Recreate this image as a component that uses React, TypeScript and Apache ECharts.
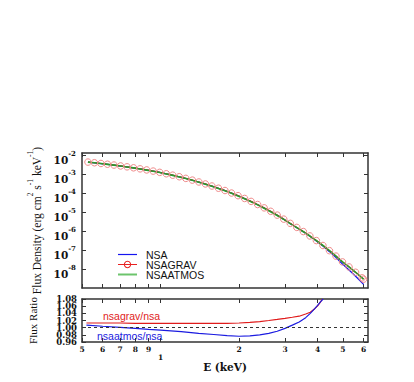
import React, { useEffect, useRef } from "react";
import * as echarts from "echarts";

const ENERGY_KEV = [
  0.527, 0.558, 0.591, 0.626, 0.663, 0.703, 0.744, 0.788, 0.835, 0.885, 0.937,
  0.993, 1.052, 1.114, 1.18, 1.25, 1.324, 1.403, 1.486, 1.574, 1.667, 1.766,
  1.871, 1.982, 2.1, 2.224, 2.356, 2.496, 2.644, 2.801, 2.967, 3.143, 3.329,
  3.527, 3.736, 3.957, 4.192, 4.441, 4.704, 4.983, 5.279, 5.592, 5.923, 6.0,
];

const FLUX_NSA = [
  4.14e-3, 3.82e-3, 3.5e-3, 3.19e-3, 2.89e-3, 2.6e-3, 2.33e-3, 2.08e-3, 1.83e-3,
  1.6e-3, 1.39e-3, 1.2e-3, 1.01e-3, 8.48e-4, 7.03e-4, 5.76e-4, 4.66e-4, 3.72e-4,
  2.93e-4, 2.28e-4, 1.75e-4, 1.32e-4, 9.74e-5, 7.06e-5, 5.04e-5, 3.52e-5,
  2.41e-5, 1.6e-5, 1.05e-5, 6.63e-6, 4.07e-6, 2.43e-6, 1.49e-6, 8.96e-7,
  5.25e-7, 2.95e-7, 1.59e-7, 8.14e-8, 3.97e-8, 1.82e-8, 8.83e-9, 4.15e-9,
  1.88e-9, 1.54e-9,
];

const FLUX_NSAGRAV = [
  4.19e-3, 3.87e-3, 3.54e-3, 3.23e-3, 2.93e-3, 2.63e-3, 2.36e-3, 2.1e-3, 1.85e-3,
  1.62e-3, 1.41e-3, 1.21e-3, 1.02e-3, 8.58e-4, 7.12e-4, 5.83e-4, 4.72e-4, 3.77e-4,
  2.97e-4, 2.31e-4, 1.77e-4, 1.34e-4, 9.88e-5, 7.18e-5, 5.13e-5, 3.59e-5,
  2.46e-5, 1.64e-5, 1.08e-5, 6.8e-6, 4.19e-6, 2.51e-6, 1.54e-6, 9.29e-7,
  5.48e-7, 3.12e-7, 1.72e-7, 9.2e-8, 4.76e-8, 2.36e-8, 1.28e-8, 6.73e-9,
  3.42e-9, 2.9e-9,
];

const FLUX_NSAATMOS = [
  4.17e-3, 3.84e-3, 3.51e-3, 3.19e-3, 2.89e-3, 2.59e-3, 2.32e-3, 2.07e-3, 1.82e-3,
  1.59e-3, 1.38e-3, 1.19e-3, 1.0e-3, 8.39e-4, 6.95e-4, 5.68e-4, 4.59e-4, 3.66e-4,
  2.88e-4, 2.23e-4, 1.71e-4, 1.29e-4, 9.51e-5, 6.9e-5, 4.92e-5, 3.44e-5,
  2.36e-5, 1.57e-5, 1.03e-5, 6.55e-6, 4.06e-6, 2.44e-6, 1.5e-6, 9.14e-7,
  5.41e-7, 3.1e-7, 1.72e-7, 9.2e-8, 4.76e-8, 2.36e-8, 1.28e-8, 6.73e-9,
  3.42e-9, 2.92e-9,
];

const RATIO_GRAV_E = [
  0.52, 0.6, 0.7, 0.8, 0.9, 1.0, 1.2, 1.4, 1.6, 1.8, 2.0, 2.2, 2.4, 2.6, 2.8,
  3.0, 3.2, 3.4, 3.6, 3.75, 3.9, 4.0, 4.1, 4.17,
];
const RATIO_GRAV = [
  1.013, 1.013, 1.013, 1.012, 1.012, 1.012, 1.012, 1.012, 1.012, 1.012, 1.013,
  1.015, 1.017, 1.02, 1.023, 1.026, 1.029, 1.032, 1.038, 1.043, 1.053, 1.061,
  1.071, 1.08,
];
const RATIO_ATMOS_E = [
  0.52, 0.6, 0.7, 0.8, 0.9, 1.0, 1.2, 1.4, 1.6, 1.8, 2.0, 2.2, 2.4, 2.6, 2.8,
  3.0, 3.2, 3.4, 3.6, 3.75, 3.9, 4.0, 4.1, 4.2,
];
const RATIO_ATMOS = [
  1.007, 1.004, 1.001, 0.998, 0.995, 0.993, 0.989, 0.984, 0.981, 0.978, 0.976,
  0.977, 0.98, 0.984, 0.99, 0.998, 1.007, 1.016, 1.028, 1.04, 1.053, 1.062,
  1.072, 1.08,
];

const X_TICKS = [0.5, 0.6, 0.7, 0.8, 0.9, 1, 2, 3, 4, 5, 6];
const Y_DECADES = [1e-8, 1e-7, 1e-6, 1e-5, 1e-4, 1e-3, 1e-2];
const RATIO_TICKS = [0.96, 0.98, 1.0, 1.02, 1.04, 1.06, 1.08];
const RATIO_LABELS_A = [0.96, 1.0, 1.04, 1.08];
const RATIO_LABELS_B = [0.98, 1.02, 1.06];
const X_MIN = 0.5;
const X_MAX = 6.24;
const Y_MIN = 1e-9;
const Y_MAX = 1.26e-2;
const RATIO_MIN = 0.96;
const RATIO_MAX = 1.08;
const RATIO_STEP = 0.02;

const SERIF = '"DejaVu Serif", serif';
const TIMES = '"Liberation Serif", serif';
const SANS = '"Liberation Sans", Arial, sans-serif';
const AX = "#333";

const C_NSA = "#1515f0";
const C_GRAV = "#e82020";
const C_GRAV_MARK = "#f08a8a";
const C_ATMOS = "#2a9a2a";
const C_ATMOS_LEG = "#6cc46c";

const ICON_LINE = "path://M0,4.4 L19,4.4 L19,5.6 L0,5.6 Z";
const ICON_LINE_THICK = "path://M0,4 L19,4 L19,6 L0,6 Z";
const ICON_LINE_RING =
  "path://M0,4.4 L19,4.4 L19,5.6 L0,5.6 Z M9.5,1.3 A3.7,3.7 0 1,1 9.49,1.3 Z M9.5,2.3 A2.7,2.7 0 1,0 9.51,2.3 Z";

const frame = { show: true, lineStyle: { color: AX, width: 1.5 } };
const xTick = {
  show: true,
  inside: true,
  length: 4,
  customValues: X_TICKS,
  lineStyle: { color: AX, width: 1 },
};
const ratioTick = {
  show: true,
  inside: true,
  length: 4,
  customValues: RATIO_TICKS,
  lineStyle: { color: AX },
};

function ratioLabel(values: number[]) {
  return {
    show: true,
    customValues: values,
    interval: 0,
    margin: 5,
    fontFamily: SERIF,
    fontSize: 8.5,
    fontWeight: "bold",
    lineHeight: 7,
    color: "#111",
    showMinLabel: true,
    showMaxLabel: true,
    hideOverlap: false,
    formatter: (v: number) => v.toFixed(2),
  };
}

function xAxisCfg(grid: number, pos: "top" | "bottom", labels: boolean) {
  return {
    type: "log",
    logBase: 10,
    gridIndex: grid,
    position: pos,
    min: X_MIN,
    max: X_MAX,
    axisLine: frame,
    axisTick: xTick,
    splitLine: { show: false },
    minorTick: { show: false },
    axisLabel: labels
      ? {
          show: true,
          customValues: X_TICKS,
          margin: 3,
          fontFamily: SERIF,
          fontSize: 7.5,
          fontWeight: "bold",
          color: "#111",
          formatter: (v: number) => {
            if (Math.abs(v - 1) < 1e-6) return "{low|1}";
            if (v < 1) return String(Math.round(v * 10));
            return String(Math.round(v));
          },
          rich: { low: { padding: [8, 0, 0, 0], fontFamily: SERIF, fontSize: 7.5, fontWeight: "bold" } },
        }
      : { show: false },
  };
}

export default function App() {
  const ref = useRef<HTMLDivElement>(null);
  useEffect(() => {
    const chart = echarts.init(ref.current!, null, { renderer: "svg" });
    const pairs = (xs: number[], ys: number[]) => xs.map((x, i) => [x, ys[i]]);
    const option: any = {
      animation: false,
      backgroundColor: "#fff",
      grid: [
        { left: 82, right: 46, top: 153, height: 135 },
        { left: 82, right: 46, top: 299, height: 43 },
      ],
      xAxis: [
        xAxisCfg(0, "bottom", false),
        xAxisCfg(0, "top", false),
        {
          ...xAxisCfg(1, "bottom", true),
          name: "E (keV)",
          nameLocation: "middle",
          nameGap: 15,
          nameTextStyle: { fontFamily: SERIF, fontSize: 10.5, fontWeight: "bold", color: "#111" },
        },
        xAxisCfg(1, "top", false),
      ],
      yAxis: [
        {
          type: "log",
          logBase: 10,
          gridIndex: 0,
          position: "left",
          min: Y_MIN,
          max: Y_MAX,
          axisLine: frame,
          axisTick: { show: true, inside: true, length: 4, customValues: Y_DECADES, lineStyle: { color: AX } },
          splitLine: { show: false },
          minorTick: { show: false },
          axisLabel: {
            customValues: Y_DECADES,
            margin: 6,
            color: "#111",
            padding: [6, 0, 0, 0],
            formatter: (v: number) => `{b|10}{s|${Math.round(Math.log10(v))}}`,
            rich: {
              b: { fontFamily: SERIF, fontSize: 10.5, fontWeight: "bold", lineHeight: 15, verticalAlign: "bottom", color: "#111" },
              s: { fontFamily: SERIF, fontSize: 7, fontWeight: "bold", lineHeight: 6, verticalAlign: "top", color: "#111" },
            },
          },
          name: "{t|Flux Density (erg cm}{p|2}{t| s}{p|-1}{t| keV}{p|-1}{t|)}",
          nameLocation: "middle",
          nameRotate: 90,
          nameGap: 35,
          nameTextStyle: {
            rich: {
              t: { fontFamily: TIMES, fontSize: 11.5, lineHeight: 16, verticalAlign: "bottom", color: "#111" },
              p: { fontFamily: TIMES, fontSize: 7.5, lineHeight: 8, verticalAlign: "top", color: "#111" },
            },
          },
        },
        {
          type: "log",
          logBase: 10,
          gridIndex: 0,
          position: "right",
          min: Y_MIN,
          max: Y_MAX,
          axisLine: frame,
          axisTick: { show: true, inside: true, length: 4, customValues: Y_DECADES, lineStyle: { color: AX } },
          splitLine: { show: false },
          axisLabel: { show: false },
        },
        {
          type: "value",
          gridIndex: 1,
          position: "left",
          min: RATIO_MIN,
          max: RATIO_MAX,
          interval: RATIO_STEP,
          axisLine: frame,
          axisTick: ratioTick,
          splitLine: { show: false },
          axisLabel: ratioLabel(RATIO_LABELS_A),
          name: "Flux Ratio",
          nameLocation: "middle",
          nameRotate: 90,
          nameGap: 44,
          nameTextStyle: { fontFamily: TIMES, fontSize: 11, color: "#111" },
        },
        {
          type: "value",
          gridIndex: 1,
          position: "right",
          min: RATIO_MIN,
          max: RATIO_MAX,
          interval: RATIO_STEP,
          axisLine: frame,
          axisTick: ratioTick,
          splitLine: { show: false },
          axisLabel: { show: false },
        },
        {
          type: "value",
          gridIndex: 1,
          position: "left",
          offset: 0,
          min: RATIO_MIN,
          max: RATIO_MAX,
          interval: RATIO_STEP,
          axisLine: { show: false },
          axisTick: { show: false },
          splitLine: { show: false },
          axisLabel: ratioLabel(RATIO_LABELS_B),
        },
      ],
      legend: {
        orient: "vertical",
        left: 113,
        top: 244,
        itemWidth: 19,
        itemHeight: 9,
        itemGap: -1,
        symbolKeepAspect: true,
        textStyle: { fontFamily: SANS, fontSize: 10.5, color: "#111", lineHeight: 9, padding: [0, 0, 0, 4] },
        data: [
          { name: "NSA", icon: ICON_LINE, itemStyle: { color: C_NSA, borderWidth: 0 } },
          { name: "NSAGRAV", icon: ICON_LINE_RING, itemStyle: { color: C_GRAV, borderWidth: 0 } },
          { name: "NSAATMOS", icon: ICON_LINE_THICK, itemStyle: { color: C_ATMOS_LEG, borderWidth: 0 } },
        ],
      },
      graphic: [
        {
          type: "text",
          x: 103,
          y: 316,
          style: { text: "nsagrav/nsa", fill: "#e01b1b", fontFamily: SANS, fontSize: 10.5, verticalAlign: "middle" },
        },
        {
          type: "text",
          x: 97,
          y: 336,
          style: { text: "nsaatmos/nsa", fill: "#1b1be0", fontFamily: SANS, fontSize: 10.5, verticalAlign: "middle" },
        },
      ],
      series: [
        {
          name: "NSA",
          type: "line",
          xAxisIndex: 0,
          yAxisIndex: 0,
          data: pairs(ENERGY_KEV, FLUX_NSA),
          symbol: "none",
          lineStyle: { color: C_NSA, width: 1.2 },
          itemStyle: { color: C_NSA },
        },
        {
          name: "NSAGRAV",
          type: "line",
          xAxisIndex: 0,
          yAxisIndex: 0,
          data: pairs(ENERGY_KEV, FLUX_NSAGRAV),
          symbol: "circle",
          symbolSize: 6.5,
          showSymbol: true,
          lineStyle: { color: C_GRAV, width: 1.2 },
          itemStyle: { color: "rgba(255,255,255,0)", borderColor: C_GRAV_MARK, borderWidth: 1 },
        },
        {
          name: "NSAATMOS",
          type: "line",
          xAxisIndex: 0,
          yAxisIndex: 0,
          data: pairs(ENERGY_KEV, FLUX_NSAATMOS),
          symbol: "none",
          lineStyle: { color: C_ATMOS, width: 1.6 },
          itemStyle: { color: C_ATMOS },
        },
        {
          name: "nsagrav/nsa",
          type: "line",
          xAxisIndex: 2,
          yAxisIndex: 2,
          data: pairs(RATIO_GRAV_E, RATIO_GRAV),
          symbol: "none",
          lineStyle: { color: "#e01b1b", width: 1.2 },
        },
        {
          name: "nsaatmos/nsa",
          type: "line",
          xAxisIndex: 2,
          yAxisIndex: 2,
          data: pairs(RATIO_ATMOS_E, RATIO_ATMOS),
          symbol: "none",
          lineStyle: { color: "#1b1be0", width: 1.2 },
          markLine: {
            silent: true,
            symbol: ["none", "none"],
            label: { show: false },
            lineStyle: { color: "#333", type: [3, 3], width: 1 },
            data: [{ yAxis: 1 }],
          },
        },
      ],
    };
    chart.setOption(option);
    return () => chart.dispose();
  }, []);
  return (
    <div
      ref={ref}
      style={{ width: 414, height: 382, position: "absolute", left: 0, top: 0 }}
    />
  );
}
